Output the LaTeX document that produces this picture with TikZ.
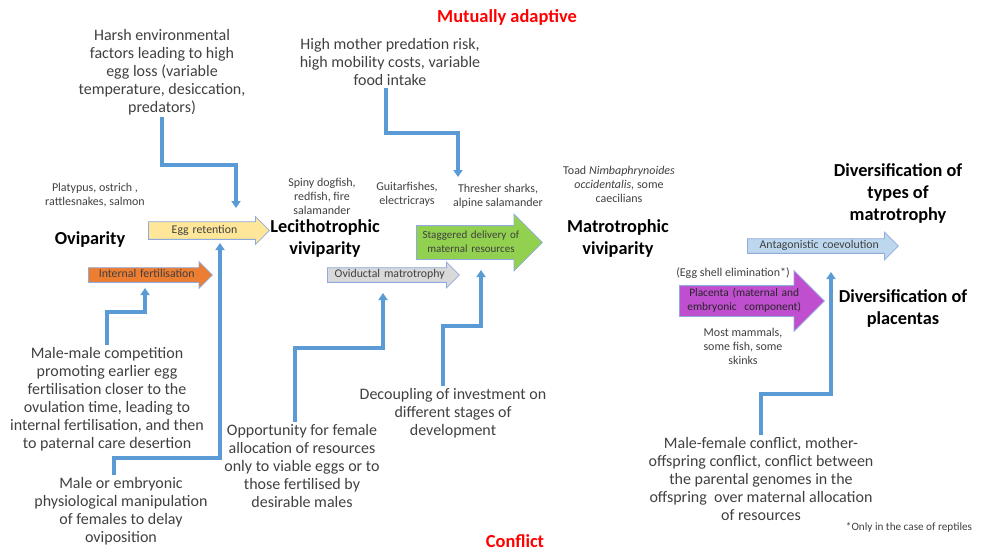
\documentclass[tikz,border=0pt]{standalone}
\usepackage{fontspec}
\setmainfont{Carlito}
\usetikzlibrary{shapes.arrows,arrows.meta}

\definecolor{txt}{HTML}{404040}
\definecolor{linkc}{HTML}{5B9BD5}
\definecolor{outl}{RGB}{143,170,220}
\definecolor{eggc}{HTML}{FFE699}
\definecolor{fertc}{HTML}{ED7D31}
\definecolor{ovidc}{HTML}{D9D9D9}
\definecolor{stagc}{HTML}{92D050}
\definecolor{antagc}{HTML}{BDD7EE}
\definecolor{placc}{RGB}{192,79,208}

\tikzset{
  note/.style={align=center,text=txt,inner sep=2pt,font=\fontsize{16}{18}\selectfont},
  spec/.style={align=center,text=txt,inner sep=1pt,font=\fontsize{12}{14}\selectfont},
  stage/.style={align=center,font=\bfseries\fontsize{18.3}{22}\selectfont},
  side/.style={text=red,inner sep=0pt,font=\bfseries\fontsize{18.4}{20}\selectfont},
  fat/.style={single arrow,draw=outl,line width=0.8pt,anchor=tail,inner xsep=0pt,
    text=txt,font=\fontsize{11.8}{14}\selectfont,align=center,
    text height=8pt,text depth=2.5pt},
  twoline/.style={text depth=16.5pt},
  link/.style={draw=linkc,line width=3.2pt,-{Triangle[width=9pt,length=7pt]}},
}

\begin{document}
\begin{tikzpicture}[x=1pt,y=-1pt]
  \useasboundingbox (0,0) rectangle (983,552);

  % headings
  \node[side] (adapt) at (507,17) {Mutually adaptive};
  \node[side] (confl) at (515,541) {Conflict};

  % stages
  \node[stage] (ovip) at (90,240) {Oviparity};
  \node[stage] (lecith) at (325,239) {Lecithotrophic\\viviparity};
  \node[stage] (matro) at (618,239) {Matrotrophic\\viviparity};
  \node[stage] (divmat) at (898,194) {Diversification of\\types of\\matrotrophy};
  \node[stage] (divplac) at (903,308) {Diversification of\\placentas};

  % species
  \node[spec] (platy) at (95,195) {Platypus, ostrich ,\\rattlesnakes, salmon};
  \node[spec] (spiny) at (322,196) {Spiny dogfish,\\redfish, fire\\salamander};
  \node[spec] (guitar) at (407,194) {Guitarfishes,\\electricrays};
  \node[spec] (thresh) at (498,196) {Thresher sharks,\\alpine salamander};
  \node[spec] (toad) at (619,184) {Toad \textit{Nimbaphrynoides}\\\textit{occidentalis,} some\\caecilians};
  \node[spec] (eggshell) at (733,273) {(Egg shell elimination*)};
  \node[spec] (mammal) at (743,346) {Most mammals,\\some fish, some\\skinks};
  \node[spec,font=\fontsize{11.2}{13}\selectfont] (reptile) at (909,527) {*Only in the case of reptiles};

  % transitions
  \node[fat,fill=eggc,minimum height=121pt,inner ysep=3.2pt,single arrow head extend=5pt,
    text width=107pt] (eggret) at (148,230.5) {Egg retention};
  \node[fat,fill=fertc,minimum height=124pt,inner ysep=1.7pt,single arrow head extend=6pt,
    text width=111pt] (intfert) at (88,275) {Internal fertilisation};
  \node[fat,fill=ovidc,minimum height=132pt,inner ysep=1.7pt,single arrow head extend=5.5pt,
    text width=120pt] (ovid) at (327,275) {Oviductal matrotrophy};
  \node[fat,twoline,fill=stagc,minimum height=126pt,inner ysep=4.25pt,single arrow head extend=11.5pt,
    text width=97pt,font=\fontsize{11}{14}\selectfont] (stag) at (416,242.5) {Staggered delivery of\\maternal resources};
  \node[fat,fill=antagc,minimum height=151pt,inner ysep=1.7pt,single arrow head extend=6.5pt,
    text width=136pt] (antag) at (747,246) {Antagonistic coevolution};
  \node[fat,twoline,fill=placc,minimum height=145pt,inner ysep=2.75pt,single arrow head extend=15pt,
    text width=116pt,text=black!85,font=\fontsize{11.4}{14}\selectfont] (plac) at (679,301)
    {Placenta (maternal and\\embryonic\ \ component)};

  % factors
  \node[note] (harsh) at (162,72) {Harsh environmental\\factors leading to high\\egg loss (variable\\temperature, desiccation,\\predators)};
  \node[note] (mother) at (390,62) {High mother predation risk,\\high mobility costs, variable\\food intake};
  \node[note] (malemale) at (107,399) {Male-male competition\\promoting earlier egg\\fertilisation closer to the\\ovulation time, leading to\\internal fertilisation, and then\\to paternal care desertion};
  \node[note] (maleor) at (121,511) {Male or embryonic\\physiological manipulation\\of females to delay\\oviposition};
  \node[note] (oppor) at (302,466) {Opportunity for female\\allocation of resources\\only to viable eggs or to\\those fertilised by\\desirable males};
  \node[note] (decoup) at (453,413) {Decoupling of investment on\\different stages of\\development};
  \node[note] (malefem) at (761,479) {Male-female conflict, mother-\\offspring conflict, conflict between\\the parental genomes in the\\offspring\ \ over maternal allocation\\of resources};

  % where the links land
  \coordinate (in-egg) at (236,208);
  \coordinate (in-stag) at (458,177);
  \coordinate (in-fert) at (145,288);
  \coordinate (in-egg2) at (220,243);
  \coordinate (in-ovid) at (383,293);
  \coordinate (in-stag2) at (481,270);
  \coordinate (in-antag) at (831,272);

  \draw[link] (harsh.south) |- (236,165) -- (in-egg);
  \draw[link] ([xshift=-4pt]mother.south) |- (458,133) -- (in-stag);
  \draw[link] (malemale.north) |- (145,312) -- (in-fert);
  \draw[link] ([xshift=-7pt]maleor.north) |- (220,458) -- (in-egg2);
  \draw[link] ([xshift=-7pt]oppor.north) |- (383,348) -- (in-ovid);
  \draw[link] ([xshift=-10pt]decoup.north) |- (481,326) -- (in-stag2);
  \draw[link] (malefem.north) |- (831,394) -- (in-antag);
\end{tikzpicture}
\end{document}
